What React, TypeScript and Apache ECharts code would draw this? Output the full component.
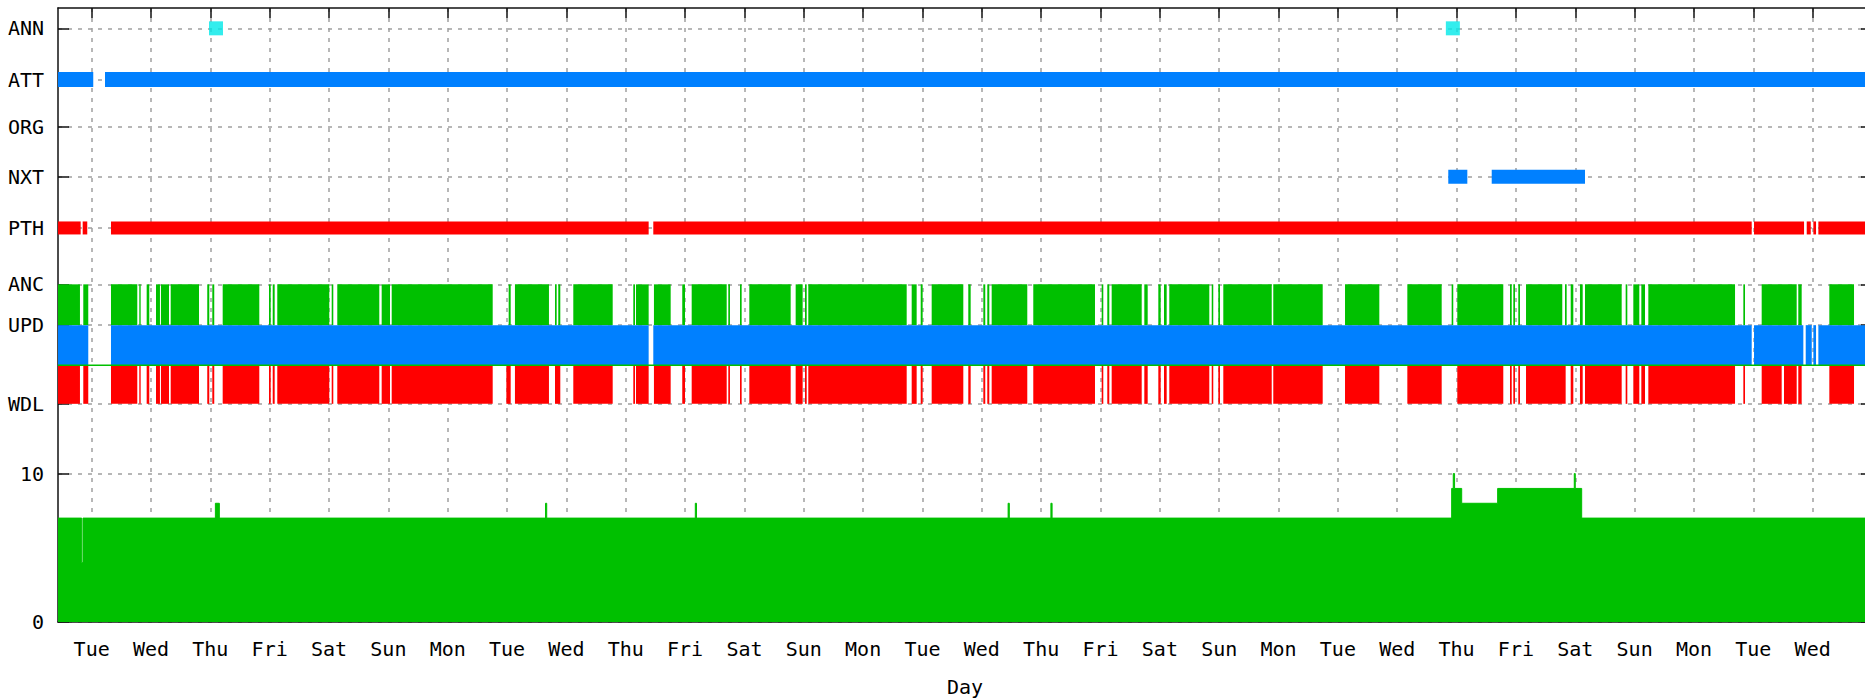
import React, { useEffect, useRef } from "react";
import * as echarts from "echarts";

// ---------- axes ----------
const X_MIN = -0.567; // days relative to the first Tuesday tick
const X_MAX = 30;
const X_TICK_VALUES = [
  0, 1, 2, 3, 4, 5, 6, 7, 8, 9, 10, 11, 12, 13, 14, 15, 16, 17, 18, 19, 20,
  21, 22, 23, 24, 25, 26, 27, 28, 29,
];
const X_TICK_LABELS = [
  "Tue", "Wed", "Thu", "Fri", "Sat", "Sun", "Mon",
  "Tue", "Wed", "Thu", "Fri", "Sat", "Sun", "Mon",
  "Tue", "Wed", "Thu", "Fri", "Sat", "Sun", "Mon",
  "Tue", "Wed", "Thu", "Fri", "Sat", "Sun", "Mon",
  "Tue", "Wed",
];
const X_NAME = "Day";

const Y_MAX = 41.37;
const LEVEL_ANN = 40;
const LEVEL_ATT = 36.55;
const LEVEL_ORG = 33.35;
const LEVEL_NXT = 30;
const LEVEL_PTH = 26.55;
const LEVEL_ANC = 22.75;
const LEVEL_UPD = 20;
const LEVEL_UPD_BASE = 17.3;
const LEVEL_WDL = 14.7;
const Y_TICK_VALUES = [0, 10, LEVEL_WDL, LEVEL_UPD, LEVEL_ANC, LEVEL_PTH, LEVEL_NXT, LEVEL_ORG, LEVEL_ATT, LEVEL_ANN];
const Y_TICK_LABELS = ["0", "10", "WDL", "UPD", "ANC", "PTH", "NXT", "ORG", "ATT", "ANN"];

// ---------- data (day values) ----------
const ANN_EVENTS = [2.095, 22.937];
const ATT_SEGMENTS = [
  [-0.567, 0.027],
  [0.225, 30],
];
const ORG_SEGMENTS: number[][] = [];
const NXT_SEGMENTS = [
  [22.86, 23.181],
  [23.592, 25.164],
];
const PTH_SEGMENTS = [
  [-0.567, -0.185],
  [-0.151, -0.074],
  [0.326, 9.386],
  [9.464, 27.973],
  [28.012, 28.855],
  [28.9, 28.968],
  [29.012, 29.057],
  [29.096, 30],
];
const ANC_SEGMENTS = [
  [-0.567, -0.197], [-0.141, -0.057], [0.326, 0.769], [0.803, 0.826], [0.927, 0.971],
  [1.084, 1.151], [1.168, 1.303], [1.332, 1.809], [1.948, 1.982], [2.033, 2.066],
  [2.208, 2.825], [2.988, 3.017], [3.051, 3.084], [3.128, 4.004], [4.045, 4.072],
  [4.139, 4.847], [4.887, 5.027], [5.056, 6.758], [7.027, 7.061], [7.133, 7.706],
  [7.808, 7.836], [7.863, 7.897], [8.116, 8.78], [9.127, 9.156], [9.173, 9.386],
  [9.475, 9.757], [9.952, 9.998], [10.111, 10.701], [10.728, 10.756], [10.925, 10.953],
  [11.082, 11.779], [11.863, 11.981], [12.02, 12.049], [12.076, 13.734], [13.818, 13.902],
  [13.97, 14.003], [14.155, 14.688], [14.772, 14.812], [15.025, 15.058], [15.092, 15.126],
  [15.166, 15.766], [15.867, 16.907], [17.02, 17.047], [17.114, 17.148], [17.188, 17.694],
  [17.738, 17.795], [17.974, 18.014], [18.07, 18.115], [18.159, 18.833], [18.874, 18.9],
  [18.985, 19.013], [19.069, 19.885], [19.911, 20.744], [21.12, 21.698], [22.17, 22.749],
  [22.917, 22.944], [23.012, 23.787], [23.9, 23.929], [23.956, 23.984], [24.04, 24.068],
  [24.17, 24.781], [24.827, 24.855], [24.923, 24.967], [25.079, 25.125], [25.164, 25.782],
  [25.849, 25.877], [25.978, 26.079], [26.113, 26.175], [26.231, 27.692], [27.832, 27.86],
  [28.141, 28.731], [28.758, 28.815], [29.281, 29.697],
];
const UPD_SEGMENTS = [
  [-0.567, -0.057],
  [0.326, 9.386],
  [9.464, 27.973],
  [28.012, 28.843],
  [28.883, 28.985],
  [29.012, 29.057],
  [29.096, 30],
];
const WDL_SEGMENTS = [
  [-0.567, -0.197], [-0.141, -0.057], [0.326, 0.769], [0.803, 0.826], [0.927, 0.971],
  [1.084, 1.151], [1.168, 1.303], [1.332, 1.809], [1.948, 1.982], [2.033, 2.066],
  [2.208, 2.825], [2.988, 3.017], [3.051, 3.084], [3.128, 4.004], [4.045, 4.072],
  [4.139, 4.847], [4.887, 5.027], [5.056, 6.758], [6.988, 7.061], [7.133, 7.706],
  [7.808, 7.897], [8.116, 8.78], [9.127, 9.156], [9.173, 9.386],
  [9.475, 9.757], [9.952, 9.998], [10.111, 10.701], [10.728, 10.756], [10.925, 10.953],
  [11.082, 11.779], [11.863, 11.981], [12.02, 12.049], [12.076, 13.734], [13.818, 13.902],
  [13.97, 14.003], [14.155, 14.688], [14.772, 14.812], [15.025, 15.058], [15.092, 15.126],
  [15.166, 15.766], [15.867, 16.907], [17.02, 17.047], [17.114, 17.148], [17.188, 17.694],
  [17.738, 17.795], [17.974, 18.014], [18.07, 18.115], [18.159, 18.833], [18.874, 18.9],
  [18.985, 19.013], [19.069, 19.885], [19.911, 20.744], [21.12, 21.698], [22.17, 22.749],
  [23.012, 23.787], [23.9, 23.929], [23.956, 23.984], [24.04, 24.068],
  [24.17, 24.838], [24.923, 24.967], [25.079, 25.125], [25.164, 25.782],
  [25.849, 25.877], [25.978, 26.079], [26.113, 26.175], [26.231, 27.692], [27.832, 27.86],
  [28.141, 28.478], [28.517, 28.731], [28.758, 28.815], [29.281, 29.697],
];
// step series: [day, count] – value holds until the next point
const COUNT_STEPS = [
  [-0.567, 7], [-0.168, 4], [-0.146, 7], [2.085, 8], [2.152, 7],
  [7.648, 8], [7.668, 7], [10.172, 8], [10.192, 7], [15.443, 8], [15.463, 7],
  [16.164, 8], [16.184, 7], [22.917, 9], [22.944, 10], [22.966, 9], [23.086, 8],
  [23.692, 9], [24.983, 10], [25.0, 9], [25.108, 7], [30, 7],
];

// ---------- style ----------
const FONT = "DejaVu Sans Mono";
const GREEN = "#00c000";
const BLUE = "#0080ff";
const RED = "#ff0000";
const CYAN = "#00e8e8";
const AXIS_LINE = { color: "#111", width: 1.5 };
const GRID_LINE = { color: "#a0a0a0", width: 1.5, type: [4, 6] as number[] };

function clipToGrid(rect: any, cs: any) {
  return echarts.graphic.clipRectByRect(rect, {
    x: cs.x,
    y: cs.y,
    width: cs.width,
    height: cs.height,
  });
}

function levelBand(level: number, half: number, color: string) {
  return (params: any, api: any) => {
    const p0 = api.coord([api.value(0), level]);
    const p1 = api.coord([api.value(1), level]);
    const shape = clipToGrid(
      { x: p0[0], y: p0[1] - half, width: Math.max(p1[0] - p0[0], 1), height: half * 2 },
      params.coordSys
    );
    return shape ? { type: "rect", shape, style: { fill: color } } : null;
  };
}

function fillBand(top: number, bottom: number, color: string) {
  return (params: any, api: any) => {
    const p0 = api.coord([api.value(0), top]);
    const p1 = api.coord([api.value(1), bottom]);
    const shape = clipToGrid(
      { x: p0[0], y: p0[1], width: Math.max(p1[0] - p0[0], 1), height: p1[1] - p0[1] },
      params.coordSys
    );
    return shape ? { type: "rect", shape, style: { fill: color } } : null;
  };
}

function customSeries(name: string, data: number[][], renderItem: any) {
  return {
    name,
    type: "custom",
    renderItem,
    data,
    encode: { x: [0, 1] },
    dimensions: ["start", "end"],
    clip: true,
    z: 2,
  };
}

export default function App() {
  const ref = useRef<HTMLDivElement>(null);

  useEffect(() => {
    if (!ref.current) return;
    const chart = echarts.init(ref.current, null, { renderer: "svg" });
    const labelStyle = { fontFamily: FONT, fontSize: 20, color: "#000" };

    chart.setOption({
      animation: false,
      backgroundColor: "#fff",
      grid: {
        left: 58,
        right: -7,
        top: 8,
        bottom: 78,
        containLabel: false,
        outerBoundsMode: "none",
      },
      xAxis: [
        {
          type: "value",
          position: "bottom",
          min: X_MIN,
          max: X_MAX,
          axisLine: { show: true, onZero: false, lineStyle: AXIS_LINE },
          axisTick: { show: true, inside: true, length: 10, customValues: X_TICK_VALUES, lineStyle: AXIS_LINE },
          axisLabel: {
            ...labelStyle,
            margin: 17,
            customValues: X_TICK_VALUES,
            formatter: (v: number) => X_TICK_LABELS[Math.round(v)] ?? "",
          },
          splitLine: { show: true, lineStyle: GRID_LINE },
          name: X_NAME,
          nameLocation: "middle",
          nameGap: 55,
          nameTextStyle: labelStyle,
        },
        {
          type: "value",
          position: "top",
          min: X_MIN,
          max: X_MAX,
          axisLine: { show: true, onZero: false, lineStyle: AXIS_LINE },
          axisTick: { show: true, inside: true, length: 10, customValues: X_TICK_VALUES, lineStyle: AXIS_LINE },
          axisLabel: { show: false },
          splitLine: { show: false },
        },
      ],
      yAxis: [
        {
          type: "value",
          position: "left",
          min: 0,
          max: Y_MAX,
          axisLine: { show: true, onZero: false, lineStyle: AXIS_LINE },
          axisTick: { show: true, inside: true, length: 11, customValues: Y_TICK_VALUES, lineStyle: AXIS_LINE },
          axisLabel: {
            ...labelStyle,
            margin: 14,
            customValues: Y_TICK_VALUES,
            formatter: (v: number) => {
              const i = Y_TICK_VALUES.findIndex((t) => Math.abs(t - v) < 1e-6);
              return i >= 0 ? Y_TICK_LABELS[i] : "";
            },
          },
          splitLine: { show: true, lineStyle: GRID_LINE },
        },
        {
          type: "value",
          position: "right",
          min: 0,
          max: Y_MAX,
          axisLine: { show: true, onZero: false, lineStyle: AXIS_LINE },
          axisTick: { show: true, inside: true, length: 11, customValues: Y_TICK_VALUES, lineStyle: AXIS_LINE },
          axisLabel: { show: false },
          splitLine: { show: false },
        },
      ],
      series: [
        {
          name: "count",
          type: "line",
          step: "end",
          data: COUNT_STEPS,
          symbol: "none",
          lineStyle: { color: GREEN, width: 1 },
          itemStyle: { color: GREEN },
          areaStyle: { color: GREEN, opacity: 1 },
          z: 2,
        },
        customSeries("ANC", ANC_SEGMENTS, fillBand(LEVEL_ANC, LEVEL_UPD, GREEN)),
        customSeries("UPD", UPD_SEGMENTS, fillBand(LEVEL_UPD, LEVEL_UPD_BASE, BLUE)),
        customSeries("WDL", WDL_SEGMENTS, fillBand(LEVEL_UPD_BASE, LEVEL_WDL, RED)),
        customSeries("ATT", ATT_SEGMENTS, levelBand(LEVEL_ATT, 7.5, BLUE)),
        customSeries("ORG", ORG_SEGMENTS, levelBand(LEVEL_ORG, 7, BLUE)),
        customSeries("NXT", NXT_SEGMENTS, levelBand(LEVEL_NXT, 7, BLUE)),
        customSeries("PTH", PTH_SEGMENTS, levelBand(LEVEL_PTH, 6.5, RED)),
        {
          name: "UPD base",
          type: "line",
          data: [
            [X_MIN, LEVEL_UPD_BASE],
            [X_MAX, LEVEL_UPD_BASE],
          ],
          symbol: "none",
          lineStyle: { color: GREEN, width: 1.5 },
          z: 3,
        },
        {
          name: "ANN",
          type: "scatter",
          data: ANN_EVENTS.map((d) => [d, LEVEL_ANN]),
          symbol: "rect",
          symbolSize: 14,
          itemStyle: { color: CYAN },
          z: 4,
        },
      ],
    });
    return () => chart.dispose();
  }, []);

  return (
    <div
      ref={ref}
      style={{ position: "fixed", left: 0, top: 0, width: 1865, height: 700, background: "#fff" }}
    />
  );
}
